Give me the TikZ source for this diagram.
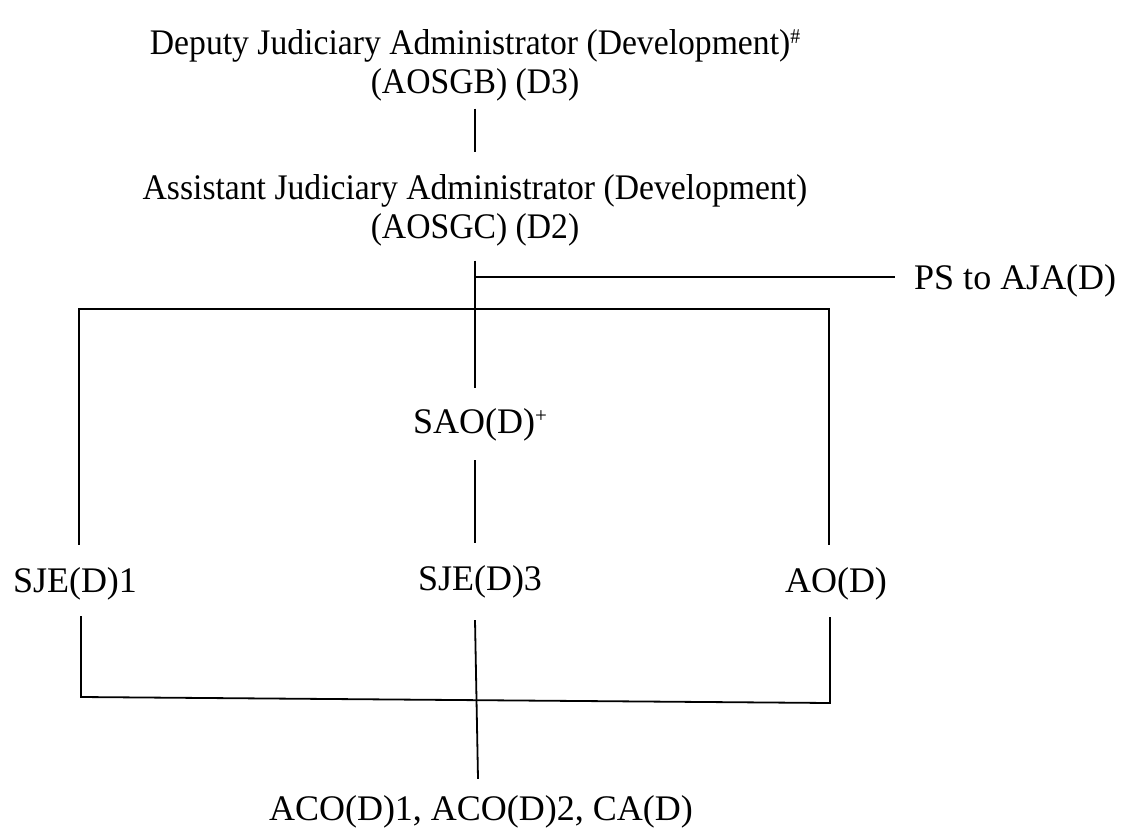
\documentclass[tikz,border=0pt]{standalone}
\usepackage{fontspec}
\setmainfont{Liberation Serif}
\newfontfamily\condensedserif[FakeStretch=0.935]{Liberation Serif}
\usetikzlibrary{positioning}
\newcommand\supmark[1]{\raisebox{11pt}{\fontsize{21}{21}\selectfont #1}}

\begin{document}
\begin{tikzpicture}[x=1pt, y=-1pt,
    post/.style={font=\fontsize{36}{39}\selectfont, inner sep=0pt, align=center},
    head/.style={post, font=\condensedserif\fontsize{36}{39}\selectfont},
    rank/.style={post, anchor=base, text height=25pt, text depth=7pt},
    link/.style={line width=1.8pt}
  ]
    \useasboundingbox (0,0) rectangle (1131,835);
    % posts
    \node[head] (dja) at (475,65.5)
      {Deputy Judiciary Administrator (Development)\supmark{\#}\\(AOSGB) (D3)};
    \node[head] (aja) at (475,210.5)
      {Assistant Judiciary Administrator (Development)\\(AOSGC) (D2)};
    \node[rank, anchor=base west] (ps) at (914,289) {PS to AJA(D)};
    \node[rank] (sao) at (480,433) {SAO(D)\supmark{+}};
    \node[rank] (sje1) at (75,592) {SJE(D)1};
    \node[rank] (sje3) at (480,590) {SJE(D)3};
    \node[rank] (ao) at (836,592) {AO(D)};
    \node[rank] (aco) at (481,820) {ACO(D)1, ACO(D)2, CA(D)};
    % junctions
    \coordinate (psJoin) at (475,277);
    \coordinate (barL) at (79,309);
    \coordinate (barR) at (829,309);
    \coordinate (baseL) at (81,697);
    \coordinate (baseR) at (830,703);
    % lines
    \draw[link] ([yshift=-7pt]dja.south) -- ([yshift=22pt]aja.north);
    \draw[link] ([yshift=-14pt]aja.south) -- ([yshift=20pt]aja.south |- sao.north);
    \draw[link] (psJoin) -- ([xshift=-19pt]ps.west |- psJoin);
    \draw[link] ([yshift=22pt]barL |- sje1.north) -- (barL) -- (barR)
      -- ([yshift=22pt]barR |- ao.north);
    \draw[link] ([yshift=-20pt]aja.south |- sao.south)
      -- ([yshift=22pt]aja.south |- sje3.north);
    \draw[link] ([yshift=-17pt]baseL |- sje1.south) -- (baseL) -- (baseR)
      -- ([yshift=-18pt]baseR |- ao.south);
    \draw[link] ([yshift=-23pt]aja.south |- sje3.south)
      -- ([xshift=3pt, yshift=16pt]aja.south |- aco.north);
\end{tikzpicture}
\end{document}
